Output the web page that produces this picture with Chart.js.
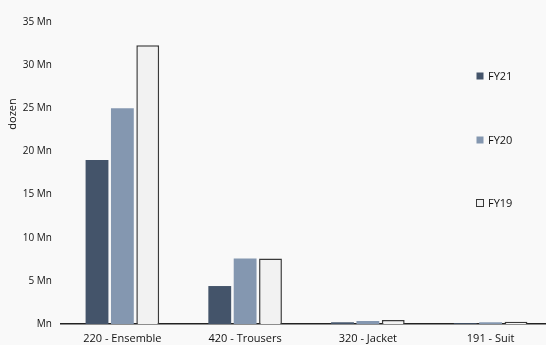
<!DOCTYPE html>
<html>
<head>
<meta charset="utf-8">
<script src="https://cdn.jsdelivr.net/npm/chart.js@4/dist/chart.umd.min.js"></script>
<style>
  html, body { margin: 0; padding: 0; background: #f9f9f9; overflow: hidden; }
  #wrap { position: relative; width: 552px; height: 345px; }
</style>
</head>
<body>
<div id="wrap"><canvas id="c" width="552" height="345"></canvas></div>
<script>
// Product categories (textile category codes)
const categories = ['220 - Ensemble', '420 - Trousers', '320 - Jacket', '191 - Suit'];
// Volumes in millions of dozens
const fy21 = [19.0, 4.4, 0.2, 0.1];
const fy20 = [25.0, 7.6, 0.35, 0.2];
const fy19 = [32.3, 7.6, 0.45, 0.25];
const yTicks = [0, 5, 10, 15, 20, 25, 30, 35];

const FONT = "'Open Sans', 'DejaVu Sans', sans-serif";
const TEXT = '#111111';

// Legend drawn as a vertical column inside the plot area
const sideLegend = {
  id: 'sideLegend',
  afterDraw(chart) {
    const ctx = chart.ctx;
    const items = chart.data.datasets;
    const ys = [76, 140, 203];
    ctx.save();
    ctx.font = '11px ' + FONT;
    ctx.textBaseline = 'middle';
    items.forEach((ds, i) => {
      const y = ys[i];
      ctx.fillStyle = ds.backgroundColor;
      ctx.fillRect(476.5, y - 3.5, 7, 7);
      if (ds.borderWidth) {
        ctx.strokeStyle = ds.borderColor;
        ctx.lineWidth = 1;
        ctx.strokeRect(476.5, y - 3.5, 7, 7);
      }
      ctx.fillStyle = TEXT;
      ctx.textAlign = 'left';
      ctx.fillText(ds.label, 488, y + 0.5);
    });
    // vertical axis title
    ctx.translate(13, 114);
    ctx.rotate(-Math.PI / 2);
    ctx.textAlign = 'center';
    ctx.fillText('dozen', 0, 0);
    ctx.restore();
  }
};

new Chart(document.getElementById('c'), {
  type: 'bar',
  data: {
    labels: categories,
    datasets: [
      { label: 'FY21', data: fy21, backgroundColor: '#44546a', borderWidth: 0 },
      { label: 'FY20', data: fy20, backgroundColor: '#8497b0', borderWidth: 0 },
      { label: 'FY19', data: fy19, backgroundColor: '#f2f2f2', borderColor: '#3a3a3a', borderWidth: 1.5 }
    ]
  },
  options: {
    responsive: false,
    animation: false,
    layout: { padding: { top: 22, left: 0, right: 0, bottom: 0 } },
    datasets: { bar: { barPercentage: 0.9, categoryPercentage: 0.62 } },
    plugins: { legend: { display: false }, tooltip: { enabled: false } },
    scales: {
      x: {
        grid: { display: false, drawTicks: false },
        border: { display: true, color: '#222', width: 1.5 },
        ticks: { color: TEXT, font: { family: FONT, size: 11 }, padding: 8, maxRotation: 0 },
        afterFit(s) { s.height = 21; }
      },
      y: {
        min: 0, max: 35,
        afterBuildTicks(s) { s.ticks = yTicks.map(v => ({ value: v })); },
        grid: { display: false, drawTicks: false },
        border: { display: false },
        ticks: {
          color: TEXT, font: { family: FONT, size: 10 }, padding: 9,
          callback: v => v === 0 ? 'Mn' : v + ' Mn'
        },
        afterFit(s) { s.width = 61; }
      }
    }
  },
  plugins: [sideLegend]
});
</script>
</body>
</html>
